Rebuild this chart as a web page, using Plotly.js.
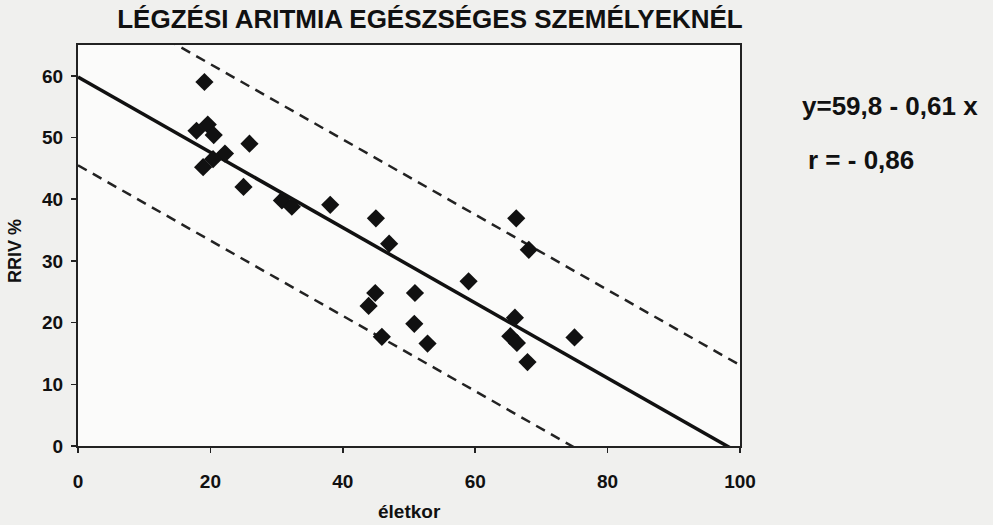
<!DOCTYPE html>
<html>
<head>
<meta charset="utf-8">
<script src="https://cdn.plot.ly/plotly-3.0.1.min.js"></script>
<style>html,body{margin:0;padding:0;background:#f0f0ee;}#chart{width:993px;height:525px;}</style>
</head>
<body>
<div id="chart"></div>
<script>
// Data (age vs RRIV %)
const ageValues = [19.1, 17.9, 19.6, 20.5, 22.2, 25.9, 18.9, 20.4, 25.0, 30.8, 32.3, 38.1, 45.0, 47.0,
                   66.2, 68.1, 59.0, 44.9, 43.9, 50.9, 50.8, 45.9, 52.8, 66.0, 65.3, 66.3, 67.9, 75.0];
const rrivValues = [59.0, 51.1, 52.1, 50.4, 47.4, 49.0, 45.2, 46.5, 42.0, 39.8, 38.8, 39.1, 36.9, 32.8,
                    36.9, 31.8, 26.7, 24.8, 22.7, 24.8, 19.8, 17.7, 16.6, 20.8, 17.8, 16.7, 13.6, 17.6];
// Regression y = 59.8 - 0.61 x and band offsets
const regression = [59.8, -0.61];
const bandOffsets = [14.3, -14.3];
const lineX = [0, 100];
const xTicks = [0, 20, 40, 60, 80, 100];
const yTicks = [0, 10, 20, 30, 40, 50, 60];

const fit = x => regression[0] + regression[1] * x;

const traces = [
  {x: lineX, y: lineX.map(fit), mode: 'lines', line: {color: '#111', width: 3.5}, hoverinfo: 'skip'},
  {x: lineX, y: lineX.map(x => fit(x) + bandOffsets[0]), mode: 'lines', line: {color: '#222', width: 2.5, dash: '10px,7px'}, hoverinfo: 'skip'},
  {x: lineX, y: lineX.map(x => fit(x) + bandOffsets[1]), mode: 'lines', line: {color: '#222', width: 2.5, dash: '10px,7px'}, hoverinfo: 'skip'},
  {x: ageValues, y: rrivValues, mode: 'markers', marker: {symbol: 'diamond', size: 14, color: '#111'}}
];

const FONT = 'Liberation Sans, Arial, sans-serif';
const tickFont = {family: FONT, size: 19, color: '#111', weight: 'bold'};

const layout = {
  width: 993, height: 525,
  paper_bgcolor: '#f0f0ee', plot_bgcolor: '#fbfbfa',
  showlegend: false,
  margin: {l: 78, r: 253, t: 45, b: 79},
  title: {text: '<b>LÉGZÉSI ARITMIA EGÉSZSÉGES SZEMÉLYEKNÉL</b>', x: 430 / 993, xanchor: 'center', xref: 'container', y: 1 - 19 / 525, yanchor: 'middle', yref: 'container',
          font: {family: FONT, size: 26, color: '#111'}},
  xaxis: {range: [0, 100], tickvals: xTicks, ticks: 'outside', ticklen: 5, tickwidth: 1.5, tickcolor: '#222',
          showline: true, linecolor: '#222', linewidth: 2, mirror: true, showgrid: false, zeroline: false,
          tickfont: tickFont, ticklabelstandoff: 12},
  yaxis: {range: [0, 65], tickvals: yTicks, ticks: 'outside', ticklen: 5, tickwidth: 1.5, tickcolor: '#222',
          showline: true, linecolor: '#222', linewidth: 2, mirror: true, showgrid: false, zeroline: false,
          tickfont: tickFont, ticklabelstandoff: 4},
  annotations: [
    {text: '<b>y=59,8 - 0,61 x</b>', xref: 'paper', yref: 'paper', x: 1, xshift: 60, y: (446 - 106) / 401, xanchor: 'left', yanchor: 'middle', showarrow: false,
     font: {family: FONT, size: 26, color: '#111'}},
    {text: '<b>r = - 0,86</b>', xref: 'paper', yref: 'paper', x: 1, xshift: 66, y: (446 - 160) / 401, xanchor: 'left', yanchor: 'middle', showarrow: false,
     font: {family: FONT, size: 26, color: '#111'}},
    {text: '<b>életkor</b>', xref: 'paper', yref: 'paper', x: 0.5, y: 0, yshift: -78, xanchor: 'center', yanchor: 'bottom', showarrow: false,
     font: {family: FONT, size: 19, color: '#111'}},
    {text: '<b>RRIV %</b>', xref: 'paper', yref: 'paper', x: 0, xshift: -63, y: (446 - 251) / 401, xanchor: 'center', yanchor: 'middle', textangle: -90, showarrow: false,
     font: {family: FONT, size: 18, color: '#111'}}
  ]
};

Plotly.newPlot('chart', traces, layout, {displayModeBar: false, staticPlot: true});
</script>
</body>
</html>
